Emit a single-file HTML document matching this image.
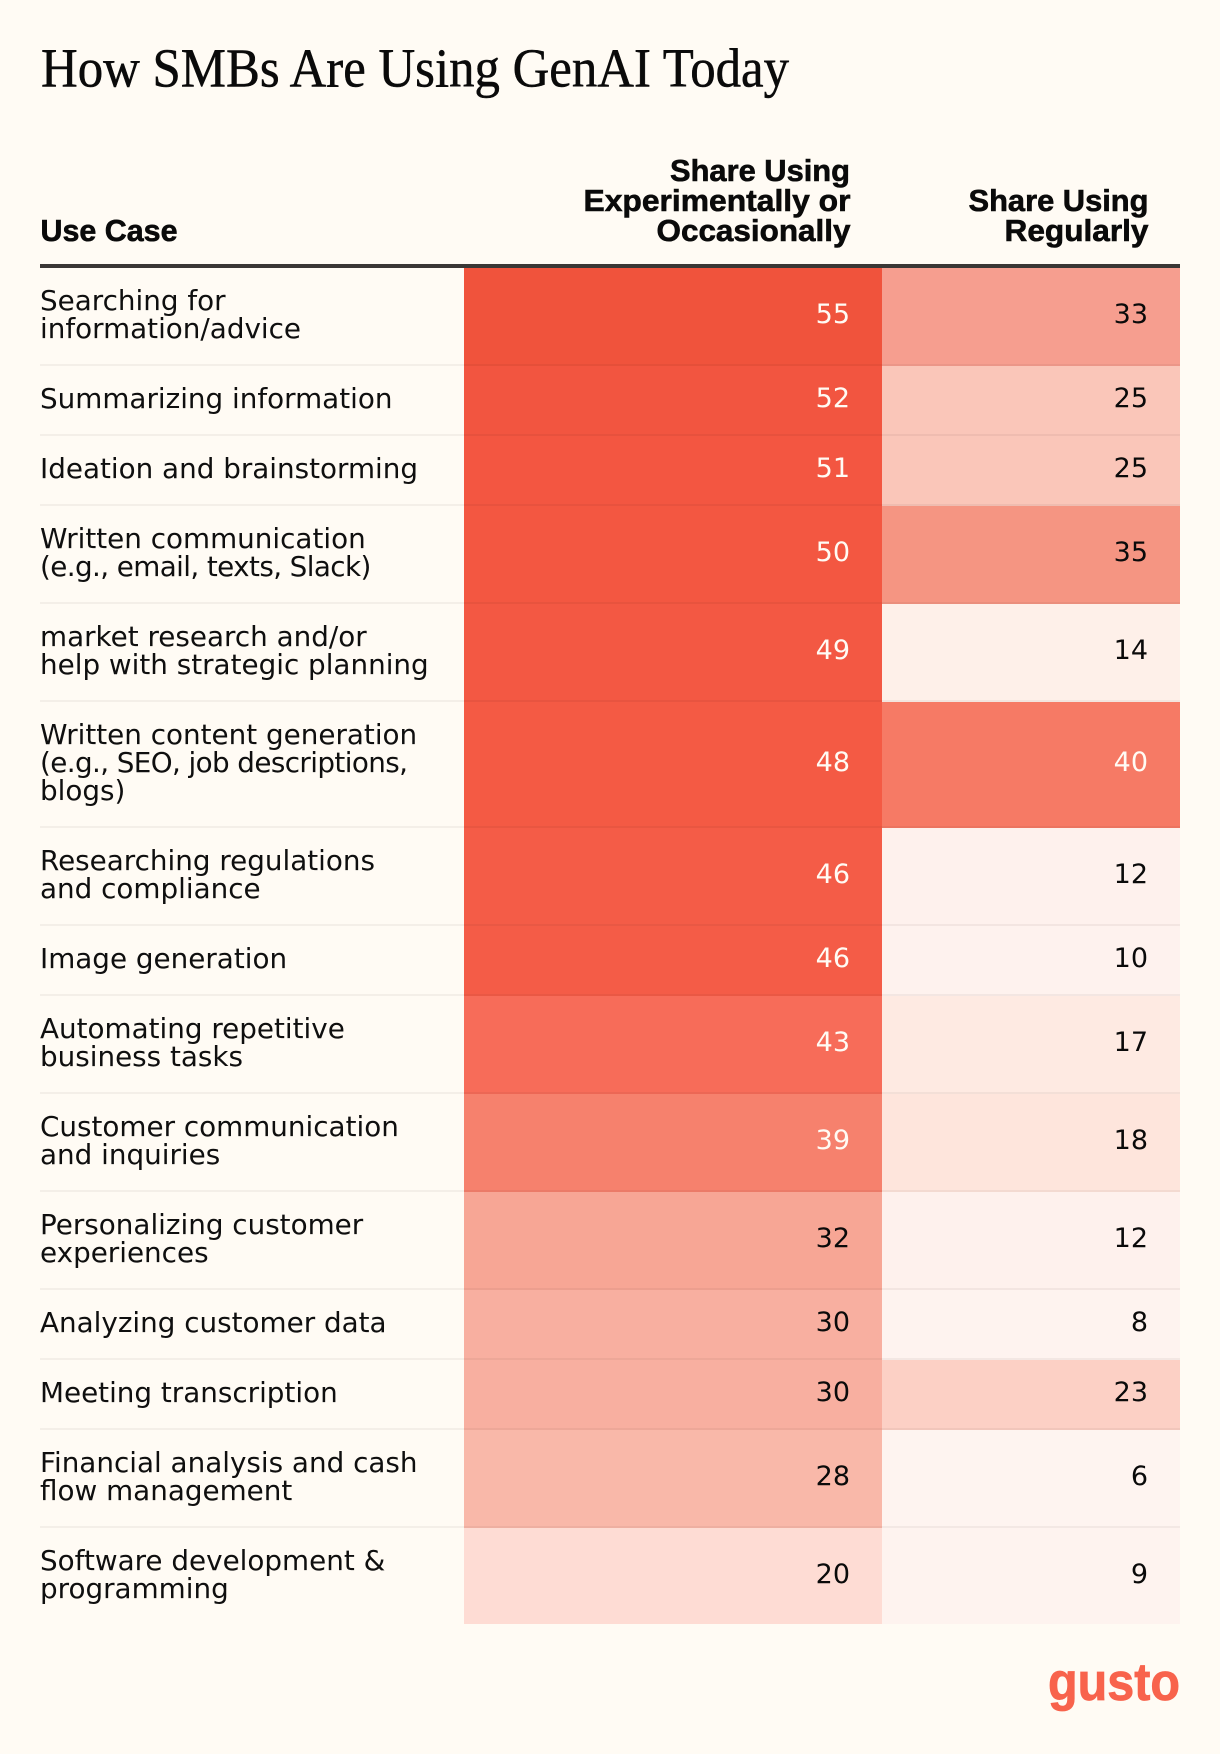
<!DOCTYPE html>
<html lang="en">
<head>
<meta charset="utf-8">
<title>How SMBs Are Using GenAI Today</title>
<style>
  html, body { margin: 0; padding: 0; background: #fffbf4; }
  svg { display: block; }
  .title { font-family: "Liberation Serif", serif; font-size: 55.5px; fill: #0a0a0a; stroke: #0a0a0a; stroke-width: .5px; }
  .head { font-family: "Liberation Sans", sans-serif; font-weight: 700; font-size: 31px; fill: #0a0a0a; stroke: #0a0a0a; stroke-width: .6px; }
  .label { font-family: "DejaVu Sans", sans-serif; font-size: 27.8px; fill: #0f0f0f; }
  .num { font-family: "DejaVu Sans", sans-serif; font-size: 27px; text-anchor: end; }
  .logo { font-family: "Liberation Sans", sans-serif; font-weight: 700; font-size: 53px; fill: #f8634c; stroke: #f8634c; stroke-width: .8px; }
</style>
</head>
<body>
<svg id="chart" xmlns="http://www.w3.org/2000/svg" width="1220" height="1754" viewBox="0 0 1220 1754">
  <rect x="0" y="0" width="1220" height="1754" fill="#fffbf4"/>
  <text class="title" x="41" y="86.5" textLength="748" lengthAdjust="spacingAndGlyphs">How SMBs Are Using GenAI Today</text>
  <text class="head" x="40.5" y="241" textLength="137" lengthAdjust="spacingAndGlyphs">Use Case</text>
  <g text-anchor="end">
    <text class="head" x="850" y="181" textLength="180" lengthAdjust="spacingAndGlyphs">Share Using</text>
    <text class="head" x="850.5" y="211" textLength="267" lengthAdjust="spacingAndGlyphs">Experimentally or</text>
    <text class="head" x="850.5" y="241" textLength="194" lengthAdjust="spacingAndGlyphs">Occasionally</text>
  </g>
  <g text-anchor="end">
    <text class="head" x="1148.5" y="211" textLength="180" lengthAdjust="spacingAndGlyphs">Share Using</text>
    <text class="head" x="1148.5" y="241" textLength="144" lengthAdjust="spacingAndGlyphs">Regularly</text>
  </g>
  <g id="rows"></g>
  <rect x="40" y="264" width="1140" height="4" fill="#3a3735"/>
  <text class="logo" x="1048" y="1700" textLength="132" lengthAdjust="spacingAndGlyphs">gusto</text>
</svg>
<script>
const categories = [
  ["Searching for", "information/advice"],
  ["Summarizing information"],
  ["Ideation and brainstorming"],
  ["Written communication", "(e.g., email, texts, Slack)"],
  ["market research and/or", "help with strategic planning"],
  ["Written content generation", "(e.g., SEO, job descriptions,", "blogs)"],
  ["Researching regulations", "and compliance"],
  ["Image generation"],
  ["Automating repetitive", "business tasks"],
  ["Customer communication", "and inquiries"],
  ["Personalizing customer", "experiences"],
  ["Analyzing customer data"],
  ["Meeting transcription"],
  ["Financial analysis and cash", "flow management"],
  ["Software development &", "programming"]
];
const experimentalShare = [55, 52, 51, 50, 49, 48, 46, 46, 43, 39, 32, 30, 30, 28, 20];
const regularShare = [33, 25, 25, 35, 14, 40, 12, 10, 17, 18, 12, 8, 23, 6, 9];

const colorStopValues = [6, 12, 14, 17, 18, 20, 23, 25, 28, 30, 32, 33, 35, 39, 40, 43, 46, 50, 52, 55];
const colorStopColors = ["#fef4f0", "#fef1ed", "#fef0e9", "#feeae2", "#fee5dc", "#fedcd4", "#fcd0c5", "#fac6b9",
  "#f9b8a9", "#f8afa0", "#f7a695", "#f69e8f", "#f59582", "#f6816d", "#f67a65", "#f76c59", "#f45c47", "#f35741", "#f25540", "#f0533c"];

function hexToRgb(hex) {
  return [1, 3, 5].map(function (i) { return parseInt(hex.substr(i, 2), 16); });
}
function colorScale(value) {
  const last = colorStopValues.length - 1;
  if (value <= colorStopValues[0]) return colorStopColors[0];
  if (value >= colorStopValues[last]) return colorStopColors[last];
  let i = 0;
  while (colorStopValues[i + 1] < value) i++;
  const t = (value - colorStopValues[i]) / (colorStopValues[i + 1] - colorStopValues[i]);
  const a = hexToRgb(colorStopColors[i]);
  const b = hexToRgb(colorStopColors[i + 1]);
  const c = a.map(function (v, k) { return Math.round(v + (b[k] - v) * t); });
  return "rgb(" + c.join(",") + ")";
}
function textColor(value) {
  return value >= 39 ? "#fffbf4" : "#0a0a0a";
}
function rowHeight(lineCount) {
  return 42 + 28 * lineCount;
}

const NS = "http://www.w3.org/2000/svg";
const rowsGroup = document.getElementById("rows");
const columns = [
  { key: "experimental", values: experimentalShare, x: 464, width: 418, numX: 850 },
  { key: "regular", values: regularShare, x: 882, width: 298, numX: 1148 }
];

let rowTop = 268;
categories.forEach(function (lines, r) {
  const isLast = r === categories.length - 1;
  const full = rowHeight(lines.length);
  const body = full - 2;
  const center = rowTop + body / 2;

  columns.forEach(function (col) {
    const value = col.values[r];
    const cell = document.createElementNS(NS, "rect");
    
    
    cell.setAttribute("x", col.x);
    cell.setAttribute("y", rowTop);
    cell.setAttribute("width", col.width);
    cell.setAttribute("height", isLast ? body : full);
    cell.setAttribute("fill", colorScale(value));
    rowsGroup.appendChild(cell);

    const num = document.createElementNS(NS, "text");
    
    
    num.setAttribute("class", "num");
    num.setAttribute("x", col.numX);
    num.setAttribute("y", center + 7);
    num.setAttribute("fill", textColor(value));
    num.textContent = value;
    rowsGroup.appendChild(num);
  });

  lines.forEach(function (line, i) {
    const label = document.createElementNS(NS, "text");
    
    
    label.setAttribute("class", "label");
    label.setAttribute("x", 40);
    label.setAttribute("y", center + 8 - 14 * (lines.length - 1) + 28 * i);
    if (line.indexOf("(e.g.") === 0) {
      label.style.letterSpacing = "-0.6px";
    }
    label.textContent = line;
    rowsGroup.appendChild(label);
  });

  if (!isLast) {
    const sep = document.createElementNS(NS, "rect");
    
    
    sep.setAttribute("x", 40);
    sep.setAttribute("y", rowTop + body);
    sep.setAttribute("width", 1140);
    sep.setAttribute("height", 2);
    sep.setAttribute("fill", "rgba(40,20,10,0.05)");
    rowsGroup.appendChild(sep);
  }
  rowTop += full;
});
</script>
</body>
</html>
